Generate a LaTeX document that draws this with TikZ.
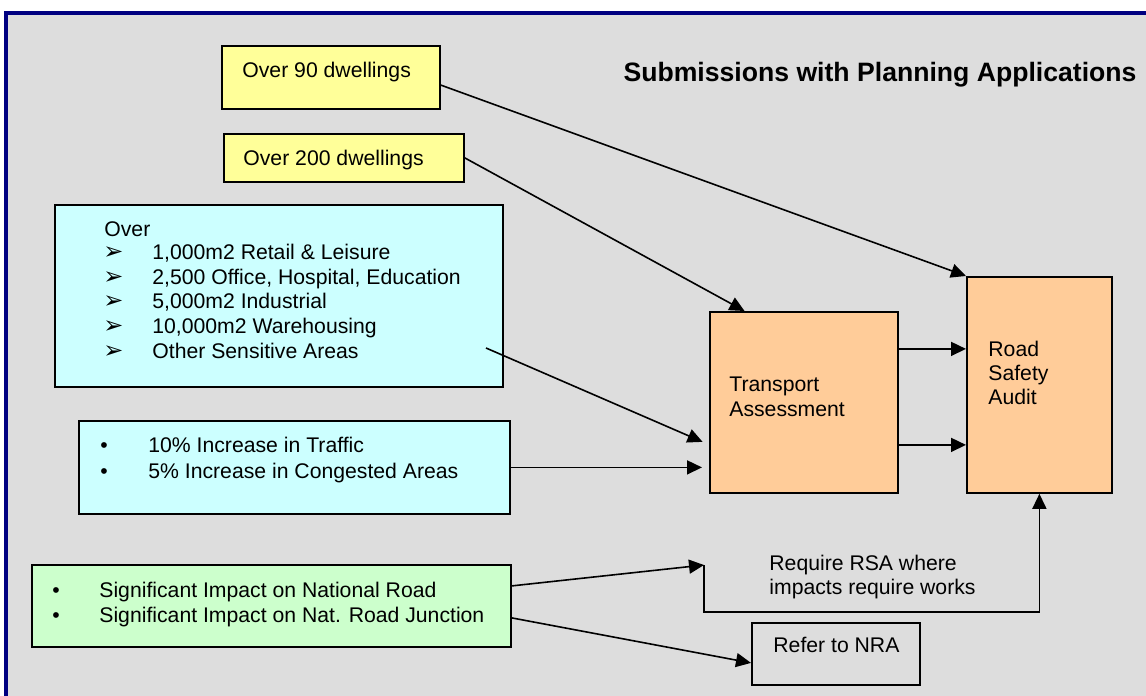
\documentclass[tikz,border=0pt]{standalone}
\usepackage{fontspec}
\setmainfont{Liberation Sans}
\newfontfamily\symfont{DejaVu Sans}
\usetikzlibrary{arrows.meta}
\definecolor{bggray}{HTML}{DDDDDD}
\definecolor{framenavy}{HTML}{000080}
\definecolor{yellowfill}{HTML}{FFFF99}
\definecolor{cyanfill}{HTML}{CCFFFF}
\definecolor{orangefill}{HTML}{FFCC99}
\definecolor{greenfill}{HTML}{CCFFCC}
\newcommand{\arrowmark}{{\symfont\bfseries\fontsize{12}{12}\selectfont ➢}}
\newcommand{\dotmark}{\textbullet}
\tikzset{
  box/.style={draw=black, line width=0.9pt, anchor=north west, inner sep=0pt},
  txt/.style={anchor=base west, inner sep=0pt, font=\fontsize{10.6}{12}\selectfont},
  arr/.style={-{Triangle[length=7.5pt,width=7pt]}, line width=0.8pt}
}

\begin{document}
\begin{tikzpicture}[x=0.5pt,y=-0.5pt]
\useasboundingbox (0,0) rectangle (1146,696);
\fill[bggray] (6,13) rectangle (1146,696);
\draw[framenavy, line width=2pt] (6,696) -- (6,13) -- (1146,13);
\node[font=\fontsize{13.3}{16}\selectfont\bfseries, anchor=base, inner sep=0pt] (title) at (880,81) {Submissions with Planning Applications};
\node[box, fill=yellowfill, minimum width=109pt, minimum height=31.5pt] (ninety) at (221,45) {};
\node[txt] (ninetytxt) at (242,77) {Over 90 dwellings};
\node[box, fill=yellowfill, minimum width=120pt, minimum height=24pt] (twohundred) at (223,133) {};
\node[txt] (twohundredtxt) at (243,165) {Over 200 dwellings};
\node[box, fill=cyanfill, minimum width=224pt, minimum height=91pt] (floorarea) at (54,204) {};
\node[txt] (overtxt) at (104,236) {Over};
\node[txt] (retailmark) at (103,259) {\arrowmark};
\node[txt] (retailtxt) at (152,259) {1,000m2 Retail \& Leisure};
\node[txt] (officemark) at (103,284) {\arrowmark};
\node[txt] (officetxt) at (152,284) {2,500 Office, Hospital, Education};
\node[txt] (industrymark) at (103,308) {\arrowmark};
\node[txt] (industrytxt) at (152,308) {5,000m2 Industrial};
\node[txt] (warehousemark) at (103,333) {\arrowmark};
\node[txt] (warehousetxt) at (152,333) {10,000m2 Warehousing};
\node[txt] (sensitivemark) at (103,358) {\arrowmark};
\node[txt] (sensitivetxt) at (152,358) {Other Sensitive Areas};
\node[box, fill=cyanfill, minimum width=215.5pt, minimum height=46.5pt] (traffic) at (78,420) {};
\node[txt] (trafficmark) at (100,452) {\dotmark};
\node[txt] (traffictxt) at (148,452) {10\% Increase in Traffic};
\node[txt] (congestmark) at (100,478) {\dotmark};
\node[txt] (congesttxt) at (148,478) {5\% Increase in Congested Areas};
\node[box, fill=greenfill, minimum width=239.5pt, minimum height=41pt] (national) at (31,564) {};
\node[txt] (roadmark) at (52,597) {\dotmark};
\node[txt] (roadtxt) at (99,597) {Significant Impact on National Road};
\node[txt] (junctionmark) at (52,622) {\dotmark};
\node[txt] (junctiontxt) at (99,622) {Significant Impact on Nat. Road Junction};
\node[box, fill=orangefill, minimum width=94pt, minimum height=90.5pt] (ta) at (709,311) {};
\node[txt] (tatxt) at (729,391) {Transport};
\node[txt] (tatxtb) at (729,416) {Assessment};
\node[box, fill=orangefill, minimum width=72.5pt, minimum height=108pt] (rsa) at (966,276) {};
\node[txt] (rsatxt) at (988,356) {Road};
\node[txt] (rsatxtb) at (988,380) {Safety};
\node[txt] (rsatxtc) at (988,404) {Audit};
\node[box, minimum width=84pt, minimum height=31pt] (nra) at (751,622) {};
\node[txt] (nratxt) at (773,652) {Refer to NRA};
\node[txt] (requiretxt) at (769,570) {Require RSA where};
\node[txt] (requiretxtb) at (769,594) {impacts require works};
\coordinate (floorout) at (486,348);
\coordinate (taup) at ([yshift=26.75pt]ta.east);
\coordinate (talow) at ([yshift=-21.25pt]ta.east);
\coordinate (nationalup) at ([yshift=10pt]national.east);
\coordinate (nationallow) at ([yshift=-6pt]national.east);
\coordinate (rsabend) at (704,565);
\draw[arr] (ninety.-4) -- (rsa.north west);
\draw[arr] (twohundred.east) -- (ta.123);
\draw[arr, shorten >=3.5pt] (floorout) -- (ta.204);
\draw[arr, shorten >=3.5pt] (traffic.east) -- (traffic.east -| ta.west);
\draw[arr] (taup) -- (taup -| rsa.west);
\draw[arr] (talow) -- (talow -| rsa.west);
\draw[arr] (nationalup) -- (rsabend);
\draw[arr] (rsabend) -- ++(0,47) -| (rsa.south);
\draw[arr] (nationallow) -- ([yshift=-4.5pt]nra.west);
\end{tikzpicture}
\end{document}
